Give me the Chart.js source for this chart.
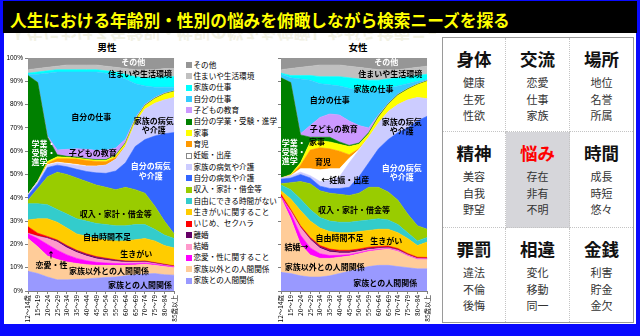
<!DOCTYPE html>
<html lang="ja">
<head>
<meta charset="UTF-8">
<title>人生における年齢別・性別の悩み</title>
<script src="https://cdn.jsdelivr.net/npm/chart.js"></script>
<style>
  html, body { margin: 0; padding: 0; }
  body { width: 640px; height: 336px; background: #0a0aff; position: relative; overflow: hidden;
         font-family: "Noto Sans CJK JP", sans-serif; }
  .abs { position: absolute; }
  #titlebar { left: 3px; top: 1px; width: 634px; height: 32px; background: #000; }
  #title { left: 10px; top: 8px; color: #ffff00; font-size: 16.7px; font-weight: bold; white-space: nowrap; line-height: 24px; }
  #panel { left: 4px; top: 33px; width: 632px; height: 291px; background: #fff; }
  #ghost { left: 4px; top: 33px; width: 432px; height: 12px; overflow: hidden; }
  #ghost span { position: absolute; left: 6px; top: -12px; font-size: 16.7px; font-weight: bold; white-space: nowrap;
                color: #d8d8b0; opacity: .35; transform: scaleY(-1); line-height: 24px; }
  .ctitle { top: 41px; font-size: 9.5px; font-weight: bold; width: 40px; text-align: center; line-height: 12px; }
  #legend { left: 186px; top: 58.5px; }
  .lg { height: 11.35px; line-height: 11.35px; font-size: 7.6px; white-space: nowrap; color: #000; }
  .lg i { display: inline-block; width: 6px; height: 6px; margin-right: 1.5px; vertical-align: -0.5px; box-sizing: border-box; }
  #grid { left: 442px; top: 37px; width: 190px; height: 284px; border: 1px solid #9a9a9a;
          display: grid; grid-template-columns: 63px 64px 63px; grid-template-rows: 94px 96px 94px; }
  .cell { border-right: 1px dotted #c4c4c4; border-bottom: 1px dotted #c4c4c4; text-align: center; }
  .cell:nth-child(3n) { border-right: none; }
  .cell:nth-child(n+7) { border-bottom: none; }
  .cell.mid { background: #d6d6da; }
  .cell b { display: block; margin-top: 9px; font-size: 17.5px; line-height: 24px; color: #111; }
  .cell.mid b { color: #ff0000; }
  .cell span { display: block; font-size: 11px; line-height: 16.5px; color: #333; }
  .cell b + span { margin-top: 3px; }
</style>
</head>
<body>
<div id="titlebar" class="abs"></div>
<div id="title" class="abs">人生における年齢別・性別の悩みを俯瞰しながら検索ニーズを探る</div>
<div id="panel" class="abs"></div>
<div id="ghost" class="abs"><span>人生における年齢別・性別の悩みを俯瞰しながら検索ニーズを探る</span></div>
<div class="abs ctitle" style="left:87px">男性</div>
<div class="abs ctitle" style="left:338px">女性</div>
<canvas id="maleChart" class="abs" width="183" height="285" style="left:0;top:40px"></canvas>
<canvas id="femaleChart" class="abs" width="158" height="285" style="left:278px;top:40px"></canvas>
<div id="legend" class="abs"></div>
<div id="grid" class="abs"></div>
<script>
const ages = ['12～14歳', '15～19', '20～24', '25～29', '30～34', '35～39', '40～44', '45～49',
              '50～54', '55～59', '60～64', '65～69', '70～74', '75～79', '80～84', '85歳以上'];

// 男性 (percent share, bottom of the stack first)
const maleFamily       = [8.5, 7.5, 6, 4.8, 4.8, 5, 5.2, 5.5, 5.8, 6, 6.5, 7, 7.3, 7.5, 7, 6.8];
const maleOthers       = [14, 11.5, 9, 8.7, 7.7, 6.8, 6.1, 5.5, 5.2, 5, 4.5, 4.2, 4.2, 3.5, 3.5, 3.2];
const maleLove         = [2, 3.5, 5, 4, 3, 2.2, 1.7, 1.3, 1, 0.8, 0.7, 0.6, 0.5, 0.5, 0.4, 0.3];
const maleMarriage     = [0.3, 1, 2.5, 3.5, 3, 2.5, 2, 1.5, 1.2, 0.9, 0.6, 0.5, 0.4, 0.3, 0.2, 0.2];
const maleDivorce      = [0, 0.1, 0.4, 0.6, 0.7, 0.7, 0.7, 0.7, 0.6, 0.5, 0.4, 0.3, 0.3, 0.2, 0.2, 0.1];
const maleBullying     = [2.8, 1.2, 0.5, 0.3, 0.3, 0.3, 0.3, 0.3, 0.3, 0.2, 0.2, 0.2, 0.2, 0.2, 0.2, 0.2];
const malePurpose      = [2.9, 6.2, 7.6, 7.6, 7.5, 7, 7.5, 7.7, 7.9, 8.1, 8.6, 9.2, 9.6, 9.3, 8, 7.7];
const maleNoTime       = [7, 6.5, 6, 5.5, 6, 6.5, 6.5, 6.5, 6.5, 6.5, 6.5, 6.5, 6, 5, 4.5, 4];
const maleMoney        = [1.5, 6.5, 12, 16, 17, 17.5, 17, 16.5, 16, 15.5, 16.5, 15, 13.5, 10, 6, 2];
const maleOwnHealth    = [2, 2, 4, 3, 3.3, 3.7, 4.3, 5.2, 6, 8, 10.5, 18.5, 23, 30, 37.5, 43.5];
const maleFamilyHealth = [0.5, 1, 1, 1, 1.2, 1.8, 2.2, 2.8, 3.5, 5, 7, 10, 13, 14, 14.5, 15];
const malePregnancy    = [0, 0, 0.3, 0.3, 0.3, 0.3, 0.2, 0.1, 0, 0, 0, 0, 0, 0, 0, 0];
const maleChildcare    = [0, 0, 0.5, 1.5, 2, 2.3, 2.3, 2, 1.5, 0.8, 0.3, 0.1, 0, 0, 0, 0];
const maleHousework    = [0, 0.2, 0.8, 0.8, 0.6, 0.5, 0.5, 0.5, 0.6, 0.8, 1, 1.2, 1.5, 2, 2.5, 2.6];
const maleStudy        = [51, 42.3, 10.4, 0.9, 0.4, 0.4, 0.3, 0.3, 0.3, 0.3, 0.3, 0.2, 0.2, 0.2, 0.2, 0.2];
const maleChildEdu     = [0, 0, 0.5, 2, 3, 3.5, 4, 4, 4, 3, 1.5, 0.7, 0.4, 0.3, 0.3, 0.2];
const maleOwnWork      = [0.3, 3.5, 27, 33.5, 33.2, 33, 33.2, 33.6, 33.1, 31.1, 25.9, 14.8, 7.9, 4.5, 2.5, 1.5];
const maleFamilyWork   = [0.7, 1, 1, 1, 1, 1, 1, 1, 1, 1.5, 2, 3, 3.5, 4, 4.5, 4.5];
const maleHousing      = [1.5, 1.5, 1.5, 1.5, 2, 2, 2, 2, 2, 2, 2.5, 3, 3.5, 3.5, 3.5, 3.5];
const maleOther        = [5, 4.5, 4, 3.5, 3, 3, 3, 3, 3.5, 4, 4.5, 5, 5, 5, 4.5, 4.5];

// 女性
const femaleFamily       = [8, 7.5, 6.5, 6, 6, 6.5, 7.5, 8.5, 9.5, 10.5, 11, 11, 10.5, 10, 9.5, 9.5];
const femaleOthers       = [32, 23.5, 13.5, 9.5, 8, 7.5, 7, 6.5, 6.5, 6.5, 6.5, 7, 6.5, 5, 4, 4];
const femaleLove         = [0.5, 2.5, 4, 3, 2, 1.2, 0.8, 0.6, 0.4, 0.4, 0.3, 0.2, 0.2, 0.2, 0.2, 0.2];
const femaleMarriage     = [0, 0.8, 3.2, 3.5, 2.3, 1.5, 1, 0.7, 0.5, 0.4, 0.4, 0.3, 0.3, 0.3, 0.2, 0.1];
const femaleDivorce      = [0, 0, 0.2, 0.5, 0.7, 0.8, 0.7, 0.7, 0.6, 0.5, 0.4, 0.3, 0.3, 0.2, 0.2, 0.2];
const femaleBullying     = [1, 0.7, 0.6, 0.5, 0.5, 0.5, 0.5, 0.5, 0.5, 0.5, 0.5, 0.5, 0.4, 0.4, 0.4, 0.4];
const femalePurpose      = [1.5, 4.5, 6.5, 7, 7.5, 7.5, 7.5, 7.5, 7.5, 7.2, 7.4, 7.2, 6.8, 6.4, 5, 6.6];
const femaleNoTime       = [2.5, 4, 5, 5, 4.5, 4.5, 4.5, 4.5, 4.5, 4.5, 4.5, 4, 3.5, 2.5, 2, 2];
const femaleMoney        = [0.5, 3, 7.5, 11, 11.5, 12, 12, 11.5, 12, 14, 13.5, 12, 10.5, 8, 6.5, 3.5];
const femaleOwnHealth    = [2, 2, 3, 2.5, 2, 2, 2.5, 3.5, 7, 10.5, 16.5, 22.5, 29, 37, 45, 48.5];
const femaleFamilyHealth = [0.5, 1, 1, 1, 2, 3.5, 5, 10.5, 11.5, 11, 11, 12, 12, 12, 10, 7.5];
const femalePregnancy    = [0, 0, 1.5, 3, 5, 5, 3.5, 2, 0.2, 0, 0, 0, 0, 0, 0, 0];
const femaleChildcare    = [0, 0, 1.5, 8, 9.5, 8.5, 7.5, 1.5, 0.3, 0, 0, 0, 0, 0, 0, 0];
const femaleHousework    = [0, 0.5, 1, 3.5, 3, 3, 3, 3.5, 2, 1.5, 2.5, 3, 4, 4.5, 5.5, 7.5];
const femaleStudy        = [43, 39.5, 12, 2, 1.5, 2, 1, 0.5, 0.5, 0.5, 0.5, 0.3, 0.3, 0.3, 0.2, 0.2];
const femaleChildEdu     = [0, 0, 0.5, 5, 8.5, 10, 11.5, 10.5, 7.5, 2, 0.5, 0.3, 0.3, 0.2, 0.2, 0.2];
const femaleOwnWork      = [1.5, 2, 23.5, 19.5, 14.5, 12.5, 12.5, 14, 15, 15.5, 10.5, 6.4, 3.4, 2, 1.1, 0.4];
const femaleFamilyWork   = [0.5, 1, 1.5, 2, 3, 3.5, 4, 4.5, 5, 5, 4.5, 4, 3.5, 3, 2.5, 2.2];
const femaleHousing      = [1.5, 3, 3.5, 4, 5, 5, 5, 5, 5, 5, 4.5, 4, 3.5, 3.5, 3.5, 3.5];
const femaleOther        = [5, 4.5, 4, 3.5, 3, 3, 3, 3.5, 4, 4.5, 5, 5, 5, 4.5, 4, 3.5];

const series = [
  { label: '家族との人間関係',       color: '#9999ff', male: maleFamily,       female: femaleFamily },
  { label: '家族以外との人間関係',   color: '#ffcc99', male: maleOthers,       female: femaleOthers },
  { label: '恋愛・性に関すること',   color: '#ff00ff', male: maleLove,         female: femaleLove },
  { label: '結婚',                   color: '#ff99cc', male: maleMarriage,     female: femaleMarriage },
  { label: '離婚',                   color: '#660066', male: maleDivorce,      female: femaleDivorce },
  { label: 'いじめ、セクハラ',       color: '#ff0000', male: maleBullying,     female: femaleBullying },
  { label: '生きがいに関すること',   color: '#ffcc00', male: malePurpose,      female: femalePurpose },
  { label: '自由にできる時間がない', color: '#33cccc', male: maleNoTime,       female: femaleNoTime },
  { label: '収入・家計・借金等',     color: '#99cc00', male: maleMoney,        female: femaleMoney },
  { label: '自分の病気や介護',       color: '#3366ff', male: maleOwnHealth,    female: femaleOwnHealth },
  { label: '家族の病気や介護',       color: '#ccccff', male: maleFamilyHealth, female: femaleFamilyHealth },
  { label: '妊娠・出産',             color: '#ffffff', male: malePregnancy,    female: femalePregnancy },
  { label: '育児',                   color: '#ff9900', male: maleChildcare,    female: femaleChildcare },
  { label: '家事',                   color: '#ffff00', male: maleHousework,    female: femaleHousework },
  { label: '自分の学業・受験・進学', color: '#008000', male: maleStudy,        female: femaleStudy },
  { label: '子どもの教育',           color: '#cc99ff', male: maleChildEdu,     female: femaleChildEdu },
  { label: '自分の仕事',             color: '#33ccff', male: maleOwnWork,      female: femaleOwnWork },
  { label: '家族の仕事',             color: '#00ffff', male: maleFamilyWork,   female: femaleFamilyWork },
  { label: '住まいや生活環境',       color: '#c0c0c0', male: maleHousing,      female: femaleHousing },
  { label: 'その他',                 color: '#969696', male: maleOther,        female: femaleOther }
];

// in-chart labels: text, category index, percent
const maleNotes = [
  { t: 'その他', x: 10.8, y: 98.3, c: '#fff' },
  { t: '住まいや生活環境', x: 11.5, y: 93 },
  { t: '自分の仕事', x: 6.5, y: 74.7 },
  { t: '家族の病気\nや介護', x: 12.9, y: 71.2 },
  { t: '学業・\n受験・\n進学', x: 0.37, y: 59.3, c: '#fff', a: 'left' },
  { t: '子どもの教育', x: 6.65, y: 59.4 },
  { t: '自分の病気\nや介護', x: 12.6, y: 51.5, c: '#fff' },
  { t: '収入・家計・借金等', x: 9, y: 33.2 },
  { t: '自由時間不足', x: 8.1, y: 23.2 },
  { t: '生きがい', x: 11.1, y: 16 },
  { t: '↑', x: 2.35, y: 15.3 },
  { t: '恋愛・性', x: 2.4, y: 11 },
  { t: '家族以外との人間関係', x: 8.3, y: 8.6 },
  { t: '家族との人間関係', x: 11.5, y: 2.4 }
];
const femaleNotes = [
  { t: 'その他', x: 10.8, y: 98.3, c: '#fff' },
  { t: '住まいや生活環境', x: 11.2, y: 93 },
  { t: '家族の仕事', x: 9.5, y: 86.8 },
  { t: '自分の仕事', x: 5, y: 81.8 },
  { t: '子どもの教育', x: 5.4, y: 69.7 },
  { t: '家事', x: 3.7, y: 64 },
  { t: '育児', x: 4.3, y: 55.4 },
  { t: '←妊娠・出産', x: 6.6, y: 47.5 },
  { t: '家族の病気\nや介護', x: 12.4, y: 70.5 },
  { t: '学業・\n受験・\n進学', x: 0.07, y: 59.7, c: '#fff', a: 'left' },
  { t: '自分の病気\nや介護', x: 12.4, y: 50.8, c: '#fff' },
  { t: '収入・家計・借金等', x: 7.5, y: 34.9 },
  { t: '自由時間不足', x: 6, y: 22.9 },
  { t: '生きがい', x: 10.8, y: 21.5 },
  { t: '結婚→', x: 1.6, y: 19.1 },
  { t: '家族以外との人間関係', x: 4.5, y: 10.3 },
  { t: '家族との人間関係', x: 10.7, y: 3.4 }
];

const gridTitles = ['身体', '交流', '場所', '精神', '悩み', '時間', '罪罰', '相違', '金銭'];
const gridWords = [
  ['健康', '生死', '性欲'], ['恋愛', '仕事', '家族'], ['地位', '名誉', '所属'],
  ['美容', '自我', '野望'], ['存在', '非有', '不明'], ['成長', '時短', '悠々'],
  ['違法', '不倫', '後悔'], ['変化', '移動', '同一'], ['利害', '貯金', '金欠']
];

Chart.defaults.font.family = "'Noto Sans CJK JP', sans-serif";
Chart.defaults.color = '#000';

const notePlugin = {
  id: 'notes',
  afterDatasetsDraw(chart, args, opts) {
    const ctx = chart.ctx, xs = chart.scales.x, ys = chart.scales.y;
    ctx.save();
    ctx.font = "bold 8px 'Noto Sans CJK JP'";
    ctx.textBaseline = 'middle';
    opts.items.forEach(n => {
      const lines = n.t.split('\n');
      const px = xs.getPixelForValue(n.x), py = ys.getPixelForValue(n.y);
      ctx.fillStyle = n.c || '#000';
      ctx.textAlign = n.a || 'center';
      lines.forEach((s, i) => ctx.fillText(s, px, py + (i - (lines.length - 1) / 2) * 9.2));
    });
    ctx.restore();
  }
};

function makeChart(id, key, showY, notes) {
  new Chart(document.getElementById(id), {
    type: 'line',
    data: {
      labels: ages,
      datasets: series.map((s, i) => ({
        label: s.label,
        data: s[key],
        backgroundColor: s.color,
        borderColor: s.color,
        borderWidth: 0.6,
        fill: i === 0 ? 'origin' : '-1',
        pointRadius: 0,
        tension: 0
      }))
    },
    options: {
      responsive: false,
      animation: false,
      events: [],
      layout: { padding: { top: 18, right: 4, left: 0, bottom: 0 } },
      plugins: { legend: { display: false }, tooltip: { enabled: false }, notes: { items: notes } },
      scales: {
        x: {
          grid: { drawOnChartArea: false, tickLength: 3, color: '#808080' },
          border: { color: '#808080' },
          ticks: { autoSkip: false, minRotation: 90, maxRotation: 90, padding: 1, font: { size: 6.5 } },
          afterFit: s => { s.height = 34; }
        },
        y: {
          stacked: true, min: 0, max: 100,
          grid: { drawOnChartArea: false, tickLength: 3, color: '#808080' },
          border: { color: '#808080' },
          ticks: { stepSize: 10, display: showY, padding: 2, callback: v => v + '%',
                   font: { size: 6.5, family: "'Liberation Sans', sans-serif" } },
          afterFit: s => { s.width = showY ? 28 : 3; }
        }
      }
    },
    plugins: [notePlugin]
  });
}

makeChart('maleChart', 'male', true, maleNotes);
makeChart('femaleChart', 'female', false, femaleNotes);

// legend between the two charts, top of stack first
const legend = document.getElementById('legend');
series.slice().reverse().forEach(s => {
  const row = document.createElement('div');
  row.className = 'lg';
  const border = s.color === '#ffffff' ? '1px solid #888' : 'none';
  row.innerHTML = '<i style="background:' + s.color + ';border:' + border + '"></i>' + s.label;
  legend.appendChild(row);
});

// 3x3 keyword grid
const grid = document.getElementById('grid');
gridTitles.forEach((t, i) => {
  const cell = document.createElement('div');
  cell.className = 'cell' + (i === 4 ? ' mid' : '');
  cell.innerHTML = '<b>' + t + '</b>' + gridWords[i].map(w => '<span>' + w + '</span>').join('');
  grid.appendChild(cell);
});
</script>
</body>
</html>
